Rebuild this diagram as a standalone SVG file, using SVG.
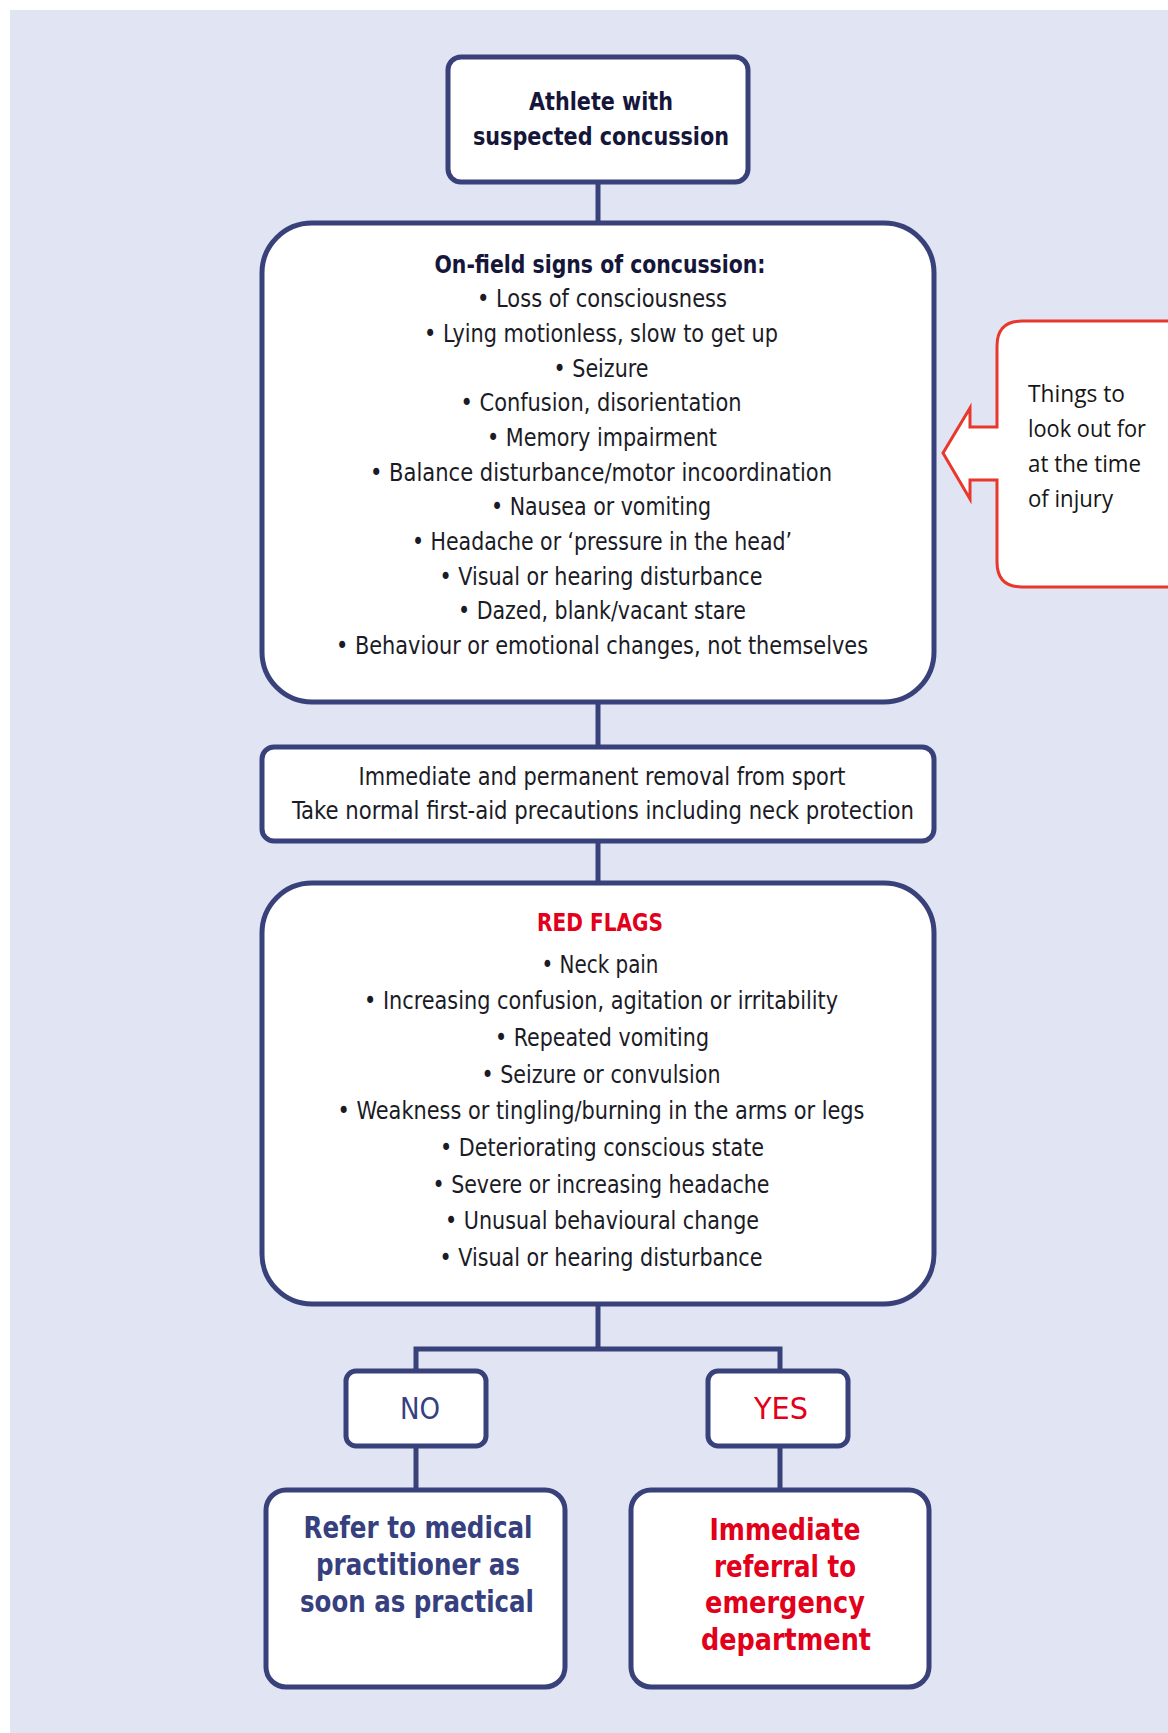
<svg xmlns="http://www.w3.org/2000/svg" width="1168" height="1733" viewBox="0 0 1168 1733">
<style>
.bg{fill:#E1E4F3}
.box{fill:#ffffff;stroke:#39417A;stroke-width:5}
.conn{stroke:#39417A;stroke-width:5;fill:none}
.t{font-family:"Liberation Sans Narrow","DejaVu Sans Condensed","Liberation Sans",sans-serif;font-size:24.5px;fill:#1b1b26;text-anchor:middle}
.b{font-weight:bold}
.navy{fill:#37407E}
.red{fill:#E2001A}
.title{fill:#16163a}
.call{font-family:"Open Sans","Noto Sans","Liberation Sans",sans-serif;font-size:23.5px;fill:#151515}
</style>
<rect x="0" y="0" width="1168" height="1733" fill="#ffffff"/>
<rect class="bg" x="10" y="10" width="1158" height="1723"/>

<g id="connectors">
<line class="conn" x1="598" y1="182" x2="598" y2="223"/>
<line class="conn" x1="598" y1="702" x2="598" y2="747"/>
<line class="conn" x1="598" y1="841" x2="598" y2="883"/>
<line class="conn" x1="598" y1="1304" x2="598" y2="1349"/>
<path class="conn" d="M416 1371 V1349 H780 V1371"/>
<line class="conn" x1="416" y1="1446" x2="416" y2="1490"/>
<line class="conn" x1="780" y1="1446" x2="780" y2="1490"/>
</g>

<g id="start">
<rect class="box" x="448" y="57" width="300" height="125" rx="13"/>
<text class="t b title" x="601" y="110" textLength="144" lengthAdjust="spacingAndGlyphs">Athlete with</text>
<text class="t b title" x="601" y="145" textLength="256" lengthAdjust="spacingAndGlyphs">suspected concussion</text>
</g>

<g id="signs">
<rect class="box" x="262" y="223" width="672" height="479" rx="50"/>
<text class="t b title" x="600" y="273" textLength="331" lengthAdjust="spacingAndGlyphs">On-field signs of concussion:</text>
<text class="t" x="602" y="307" textLength="250" lengthAdjust="spacingAndGlyphs">• Loss of consciousness</text>
<text class="t" x="601" y="342" textLength="354" lengthAdjust="spacingAndGlyphs">• Lying motionless, slow to get up</text>
<text class="t" x="601" y="377" textLength="95" lengthAdjust="spacingAndGlyphs">• Seizure</text>
<text class="t" x="601" y="411" textLength="281" lengthAdjust="spacingAndGlyphs">• Confusion, disorientation</text>
<text class="t" x="602" y="446" textLength="230" lengthAdjust="spacingAndGlyphs">• Memory impairment</text>
<text class="t" x="601" y="481" textLength="462" lengthAdjust="spacingAndGlyphs">• Balance disturbance/motor incoordination</text>
<text class="t" x="601" y="515" textLength="220" lengthAdjust="spacingAndGlyphs">• Nausea or vomiting</text>
<text class="t" x="602" y="550" textLength="380" lengthAdjust="spacingAndGlyphs">• Headache or ‘pressure in the head’</text>
<text class="t" x="601" y="585" textLength="323" lengthAdjust="spacingAndGlyphs">• Visual or hearing disturbance</text>
<text class="t" x="602" y="619" textLength="288" lengthAdjust="spacingAndGlyphs">• Dazed, blank/vacant stare</text>
<text class="t" x="602" y="654" textLength="532" lengthAdjust="spacingAndGlyphs">• Behaviour or emotional changes, not themselves</text>
</g>

<g id="callout">
<path d="M943 453 L970 408 L970 427 L997 427 L997 346 Q997 321 1022 321 L1175 321 L1175 587 L1022 587 Q997 587 997 562 L997 480 L970 480 L970 499 Z" fill="#ffffff" stroke="#E8372C" stroke-width="3" stroke-linejoin="miter"/>
<text class="call" x="1028" y="402" textLength="97" lengthAdjust="spacingAndGlyphs">Things to</text>
<text class="call" x="1028" y="437" textLength="118" lengthAdjust="spacingAndGlyphs">look out for</text>
<text class="call" x="1028" y="472" textLength="113" lengthAdjust="spacingAndGlyphs">at the time</text>
<text class="call" x="1028" y="507" textLength="85" lengthAdjust="spacingAndGlyphs">of injury</text>
</g>

<g id="removal">
<rect class="box" x="262" y="747" width="672" height="94" rx="12"/>
<text class="t" x="602" y="785" textLength="487" lengthAdjust="spacingAndGlyphs">Immediate and permanent removal from sport</text>
<text class="t" x="603" y="819" textLength="622" lengthAdjust="spacingAndGlyphs">Take normal first-aid precautions including neck protection</text>
</g>

<g id="redflags">
<rect class="box" x="262" y="883" width="672" height="421" rx="50"/>
<text class="t b red" x="600" y="931" textLength="126" lengthAdjust="spacingAndGlyphs">RED FLAGS</text>
<text class="t" x="600" y="973" textLength="117" lengthAdjust="spacingAndGlyphs">• Neck pain</text>
<text class="t" x="601" y="1009" textLength="474" lengthAdjust="spacingAndGlyphs">• Increasing confusion, agitation or irritability</text>
<text class="t" x="602" y="1046" textLength="214" lengthAdjust="spacingAndGlyphs">• Repeated vomiting</text>
<text class="t" x="601" y="1083" textLength="239" lengthAdjust="spacingAndGlyphs">• Seizure or convulsion</text>
<text class="t" x="601" y="1119" textLength="527" lengthAdjust="spacingAndGlyphs">• Weakness or tingling/burning in the arms or legs</text>
<text class="t" x="602" y="1156" textLength="324" lengthAdjust="spacingAndGlyphs">• Deteriorating conscious state</text>
<text class="t" x="601" y="1193" textLength="337" lengthAdjust="spacingAndGlyphs">• Severe or increasing headache</text>
<text class="t" x="602" y="1229" textLength="314" lengthAdjust="spacingAndGlyphs">• Unusual behavioural change</text>
<text class="t" x="601" y="1266" textLength="323" lengthAdjust="spacingAndGlyphs">• Visual or hearing disturbance</text>
</g>

<g id="no">
<rect class="box" x="346" y="1371" width="140" height="75" rx="10"/>
<text class="t navy" x="420" y="1419" style="font-size:31px" textLength="40" lengthAdjust="spacingAndGlyphs">NO</text>
</g>

<g id="yes">
<rect class="box" x="708" y="1371" width="140" height="75" rx="10"/>
<text class="t red" x="781" y="1419" style="font-size:31px" textLength="54" lengthAdjust="spacingAndGlyphs">YES</text>
</g>

<g id="refer">
<rect class="box" x="266" y="1490" width="299" height="197" rx="20"/>
<text class="t b navy" x="418" y="1538" style="font-size:30px" textLength="229" lengthAdjust="spacingAndGlyphs">Refer to medical</text>
<text class="t b navy" x="418" y="1575" style="font-size:30px" textLength="204" lengthAdjust="spacingAndGlyphs">practitioner as</text>
<text class="t b navy" x="417" y="1612" style="font-size:30px" textLength="234" lengthAdjust="spacingAndGlyphs">soon as practical</text>
</g>

<g id="emergency">
<rect class="box" x="631" y="1490" width="298" height="197" rx="20"/>
<text class="t b red" x="785" y="1540" style="font-size:30px" textLength="151" lengthAdjust="spacingAndGlyphs">Immediate</text>
<text class="t b red" x="785" y="1577" style="font-size:30px" textLength="142" lengthAdjust="spacingAndGlyphs">referral to</text>
<text class="t b red" x="785" y="1613" style="font-size:30px" textLength="160" lengthAdjust="spacingAndGlyphs">emergency</text>
<text class="t b red" x="786" y="1650" style="font-size:30px" textLength="170" lengthAdjust="spacingAndGlyphs">department</text>
</g>
</svg>
